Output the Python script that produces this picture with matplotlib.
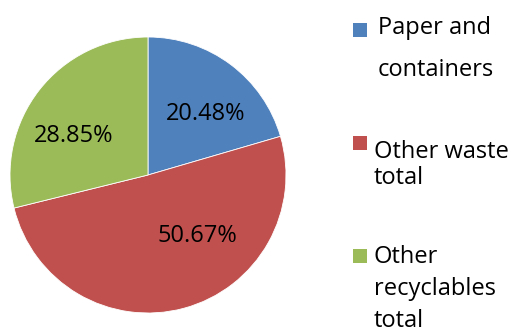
import matplotlib
matplotlib.use("Agg")
import matplotlib.pyplot as plt
from matplotlib.patches import Rectangle

categories = ["Paper and containers", "Other waste total", "Other recyclables total"]
values = [20.48, 50.67, 28.85]
legend_lines = [["Paper and", "containers"], ["Other waste", "total"], ["Other", "recyclables", "total"]]
colors = ["#4F81BD", "#C0504D", "#9BBB59"]

FONT = "Open Sans"
W, H = 510, 329
fig = plt.figure(figsize=(W / 100, H / 100), dpi=100)
cx, cy, r = 148, 175, 138
ax = fig.add_axes([(cx - r) / W, (H - cy - r) / H, 2 * r / W, 2 * r / H])
wedges, texts, autotexts = ax.pie(values, colors=colors, startangle=90, counterclock=False,
                                  autopct="%.2f%%", pctdistance=0.62,
                                  wedgeprops=dict(edgecolor="white", linewidth=0.6),
                                  textprops=dict(fontsize=17, family=FONT, color="black"))
ax.set_xlim(-1, 1)
ax.set_ylim(-1, 1)
ax.set_aspect("auto")
# label placement (Excel best-fit), in radius units
label_pos = [(0.42, 0.44), (0.36, -0.44), (-0.54, 0.28)]
for t, p in zip(autotexts, label_pos):
    t.set_position(p)

# legend
marker_y = [30, 143, 256]
line_baselines = [[34, 76], [158, 184], [263, 295, 327]]
text_x = [378, 374, 374]
for i, c in enumerate(colors):
    fig.patches.append(Rectangle(((353) / W, (H - marker_y[i] - 7) / H), 14 / W, 14 / H,
                                 transform=fig.transFigure, facecolor=c, edgecolor="none"))
    for line, by in zip(legend_lines[i], line_baselines[i]):
        fig.text(text_x[i] / W, (H - by) / H, line, fontsize=17, family=FONT,
                 ha="left", va="baseline", color="black")

fig.savefig("out.png", dpi=100)
